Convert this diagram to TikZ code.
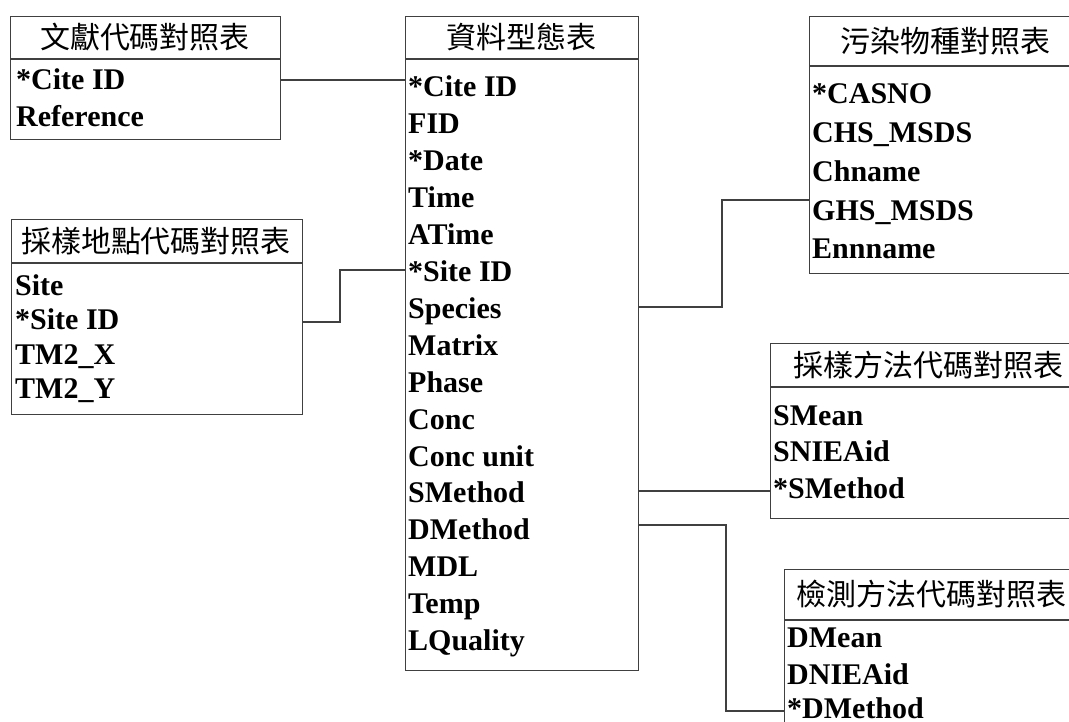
\documentclass[tikz,border=0pt]{standalone}
\usepackage{fontspec}
\setmainfont{Liberation Serif}
\newfontfamily\cjk{Noto Sans CJK TC}
\begin{document}
\begin{tikzpicture}[x=1pt,y=-1pt,
  tbox/.style={draw=black!75, line width=1.3pt, anchor=north west, inner sep=0pt, fill=none},
  sep/.style={draw=black!75, line width=1.3pt},
  link/.style={draw=black!75, line width=1.2pt},
  field/.style={anchor=base west, inner sep=0pt, font=\fontsize{30}{36}\selectfont\bfseries},
  head/.style={anchor=center, inner sep=0pt, font=\cjk\fontsize{30}{35}\selectfont}]
\useasboundingbox (0,0) rectangle (1069,722);
\clip (0,0) rectangle (1069,722);
% ---------- table 1
\node[tbox, minimum width=270pt, minimum height=123pt] (t1) at (10,16) {};
\draw[sep] (t1.west |- 0,59) -- (t1.east |- 0,59);
\node[head] (t1h) at (145,37.5) {文獻代碼對照表};
\node[field] (t1a) at (16,90) {*Cite ID};
\node[field] (t1b) at (16,127) {Reference};
% ---------- main table
\node[tbox, minimum width=233pt, minimum height=654pt] (m) at (405,16) {};
\draw[sep] (m.west |- 0,59) -- (m.east |- 0,59);
\node[head] (mh) at (521.5,37.5) {資料型態表};
\foreach \t [count=\i from 0] in {*Cite ID,FID,*Date,Time,ATime,*Site ID,Species,Matrix,Phase,Conc,Conc unit,SMethod,DMethod,MDL,Temp,LQuality}
  \node[field] (m\i) at (408,97+36.9*\i) {\t};
% ---------- table 2
\node[tbox, minimum width=291pt, minimum height=195pt] (t2) at (11,219) {};
\draw[sep] (t2.west |- 0,263) -- (t2.east |- 0,263);
\node[head] (t2h) at (156,241) {採樣地點代碼對照表};
\node[field] (t2a) at (15,296) {Site};
\node[field] (t2b) at (15,330) {*Site ID};
\node[field] (t2c) at (15,364.5) {TM2\_X};
\node[field] (t2d) at (15,398) {TM2\_Y};
% ---------- table 3
\node[tbox, minimum width=270pt, minimum height=257pt] (t3) at (809,16) {};
\draw[sep] (t3.west |- 0,66) -- (t3.east |- 0,66);
\node[head] (t3h) at (945,41) {污染物種對照表};
\node[field] (t3a) at (812,104) {*CASNO};
\node[field] (t3b) at (812,143) {CHS\_MSDS};
\node[field] (t3c) at (812,182) {Chname};
\node[field] (t3d) at (812,221) {GHS\_MSDS};
\node[field] (t3e) at (812,259) {Ennname};
% ---------- table 4
\node[tbox, minimum width=310pt, minimum height=175pt] (t4) at (770,343) {};
\draw[sep] (t4.west |- 0,387) -- (t4.east |- 0,387);
\node[head] (t4h) at (928,365) {採樣方法代碼對照表};
\node[field] (t4a) at (773,425) {SMean};
\node[field] (t4b) at (773,461) {SNIEAid};
\node[field] (t4c) at (773,498) {*SMethod};
% ---------- table 5
\node[tbox, minimum width=300pt, minimum height=200pt] (t5) at (784,569) {};
\draw[sep] (t5.west |- 0,620) -- (t5.east |- 0,620);
\node[head] (t5h) at (931,594) {檢測方法代碼對照表};
\node[field] (t5a) at (787,647) {DMean};
\node[field] (t5b) at (787,684) {DNIEAid};
\node[field] (t5c) at (787,718) {*DMethod};
% ---------- connectors
\coordinate (c1) at (340,322);
\coordinate (c2) at (340,270);
\coordinate (c3) at (722,307);
\coordinate (c4) at (722,200);
\coordinate (c5) at (726,525);
\coordinate (c6) at (726,711);
\draw[link] (t1.east |- 0,80) -- (m.west |- 0,80);
\draw[link] (t2.east |- c1) -- (c1) -- (c2) -- (m.west |- c2);
\draw[link] (m.east |- c3) -- (c3) -- (c4) -- (t3.west |- c4);
\draw[link] (m.east |- 0,491) -- (t4.west |- 0,491);
\draw[link] (m.east |- c5) -- (c5) -- (c6) -- (t5.west |- c6);
\end{tikzpicture}
\end{document}
